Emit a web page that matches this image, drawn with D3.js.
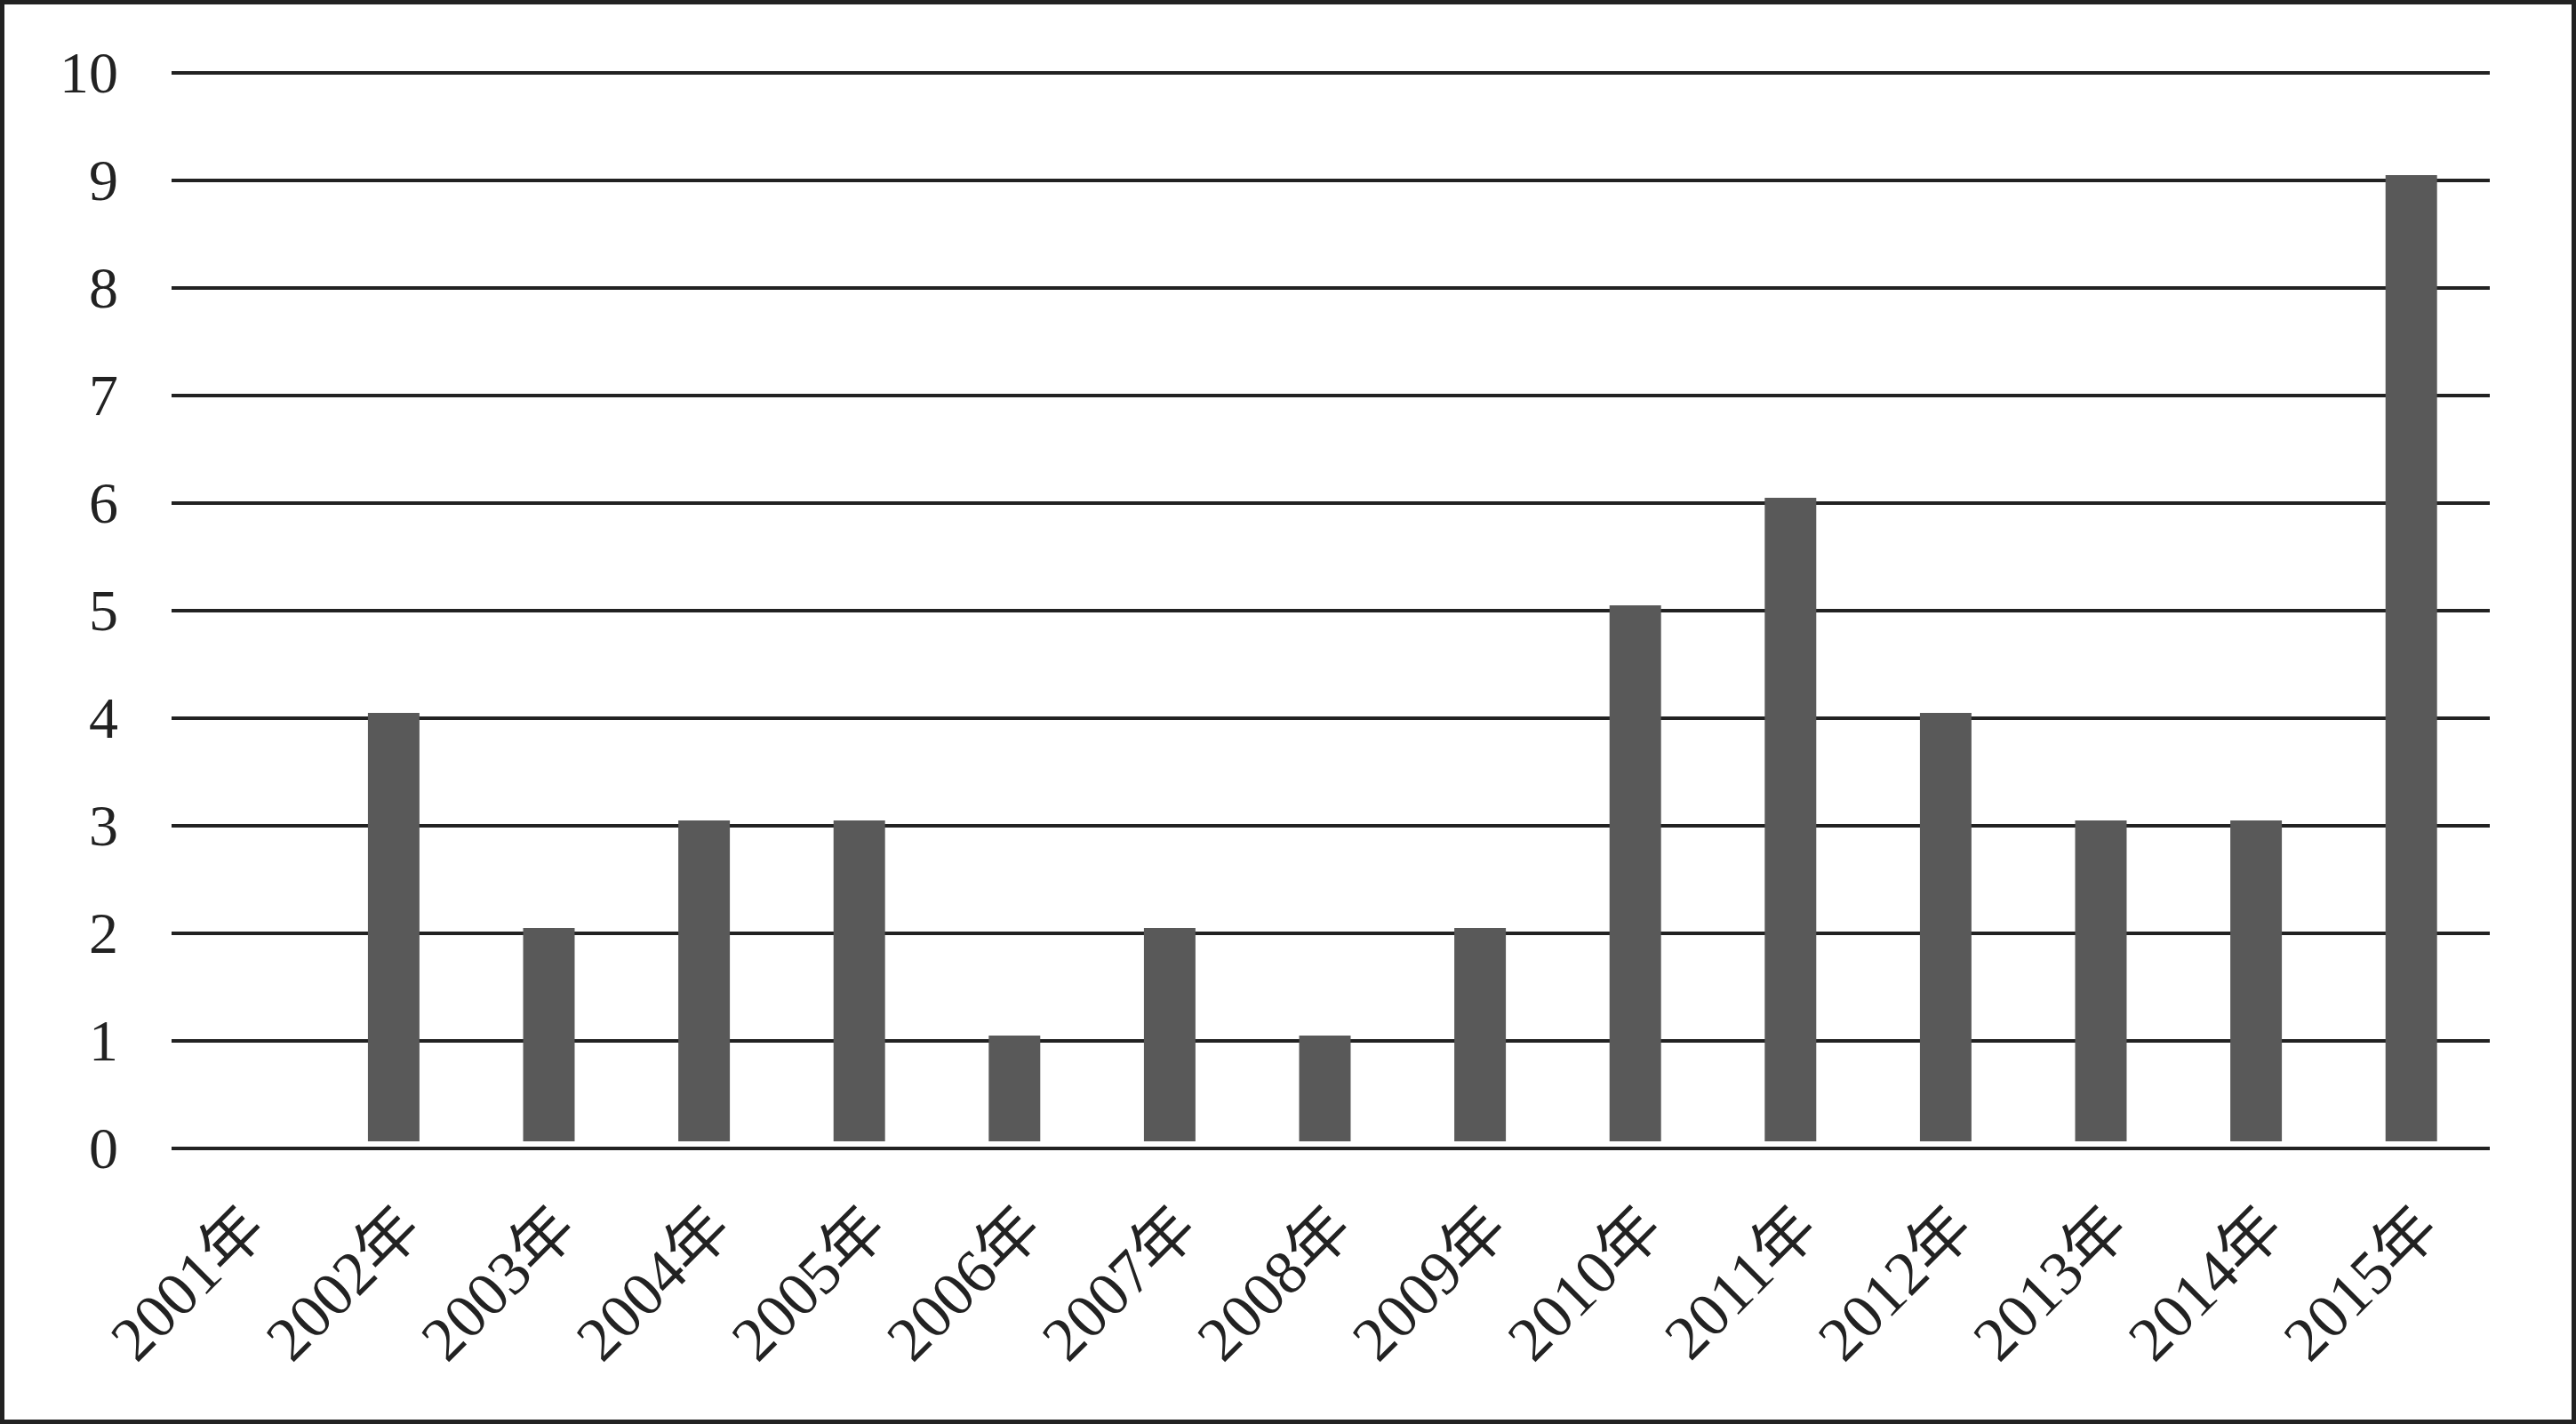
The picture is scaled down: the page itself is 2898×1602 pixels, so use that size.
<!DOCTYPE html>
<meta charset="utf-8">
<style>
    body { margin: 0; background: #fff; }
    text {
        font-family: "Liberation Serif", "Times New Roman", "Noto Sans CJK SC", serif;
        fill: #222;
    }
    .grid line { stroke: #222; stroke-width: 4px; }
    .bar { fill: #595959; }
</style>
<script src="https://d3js.org/d3.v7.min.js"></script>
<svg width="2898" height="1602"></svg>
<script>

    var years = ["2001年", "2002年", "2003年", "2004年", "2005年", "2006年", "2007年", "2008年",
        "2009年", "2010年", "2011年", "2012年", "2013年", "2014年", "2015年"];
    var counts = [0, 4, 2, 3, 3, 1, 2, 1, 2, 5, 6, 4, 3, 3, 9];
    var yTicks = [0, 1, 2, 3, 4, 5, 6, 7, 8, 9, 10];

    var svg = d3.select("svg"),
        width = +svg.attr("width"),
        height = +svg.attr("height");

    // frame
    svg.append("rect")
        .attr("x", 2.5).attr("y", 2.5)
        .attr("width", width - 5).attr("height", height - 5)
        .attr("fill", "#fff")
        .attr("stroke", "#222")
        .attr("stroke-width", 5);

    var gridLeft = 193, gridRight = 2801;

    var x = d3.scaleBand()
        .domain(years)
        .range([181, 2800])
        .paddingInner(0.668)
        .paddingOuter(0.334);

    var y = d3.scaleLinear()
        .domain([0, 10])
        .range([1292, 82]);

    // y axis with gridlines
    svg.append("g")
        .attr("class", "grid")
        .attr("transform", "translate(" + gridLeft + ",0)")
        .call(d3.axisLeft(y)
            .tickValues(yTicks)
            .tickSize(-(gridRight - gridLeft))
            .tickPadding(60)
            .offset(0)
            .tickFormat(d3.format("d")))
        .call(function (g) { g.select(".domain").remove(); })
        .selectAll("text")
        .attr("font-size", 66)
        .attr("dy", "0.34em");

    // bars
    svg.append("g")
        .selectAll("rect")
        .data(counts)
        .enter().append("rect")
        .attr("class", "bar")
        .attr("x", function (d, i) { return x(years[i]); })
        .attr("width", x.bandwidth())
        .attr("y", function (d) { return y(d) - 6; })
        .attr("height", function (d) { return d > 0 ? y(0) - y(d) - 2 : 0; });

    // x axis labels
    var xAxis = svg.append("g")
        .attr("transform", "translate(0," + y(0) + ")")
        .call(d3.axisBottom(x).tickSize(0).tickPadding(0).offset(0));
    xAxis.select(".domain").remove();
    xAxis.selectAll("text")
        .attr("font-size", 70)
        .attr("text-anchor", "end")
        .attr("y", 0)
        .attr("dy", 0)
        .attr("transform", "translate(34,94) rotate(-45)");

</script>
